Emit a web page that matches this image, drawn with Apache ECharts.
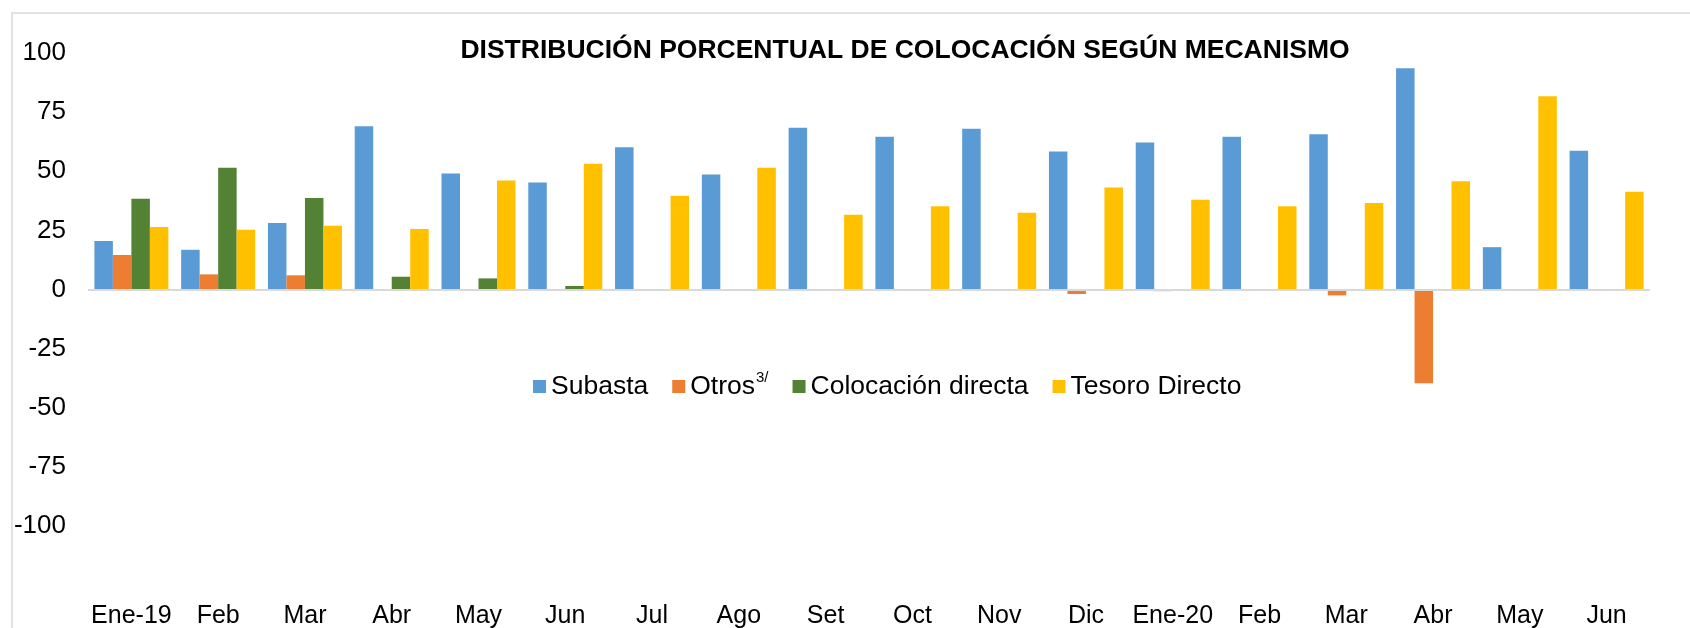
<!DOCTYPE html>
<html>
<head>
<meta charset="utf-8">
<script src="https://cdn.jsdelivr.net/npm/echarts@6/dist/echarts.min.js"></script>
<style>
  html, body { margin: 0; padding: 0; background: #fff; }
  #chart { width: 1690px; height: 628px; }
</style>
</head>
<body>
<div id="chart"></div>
<script>
  // Data
  const categories = ['Ene-19', 'Feb', 'Mar', 'Abr', 'May', 'Jun', 'Jul', 'Ago', 'Set', 'Oct', 'Nov', 'Dic',
    'Ene-20', 'Feb', 'Mar', 'Abr', 'May', 'Jun'];
  const subasta = [20.5, 16.8, 28.1, 69.0, 49.0, 45.2, 60.1, 48.6, 68.4, 64.6, 68.0, 58.4, 62.2, 64.6, 65.6, 93.6, 17.9, 58.7];
  const otros = [14.6, 6.4, 6.0, -0.5, 0, 0, 0, -0.5, -0.2, 0, -0.5, -1.9, -0.7, 0, -2.5, -39.6, 0, -0.3];
  const colocacionDirecta = [38.4, 51.5, 38.7, 5.4, 4.7, 1.5, 0, 0, 0, 0, 0, 0, 0, 0, 0, 0, 0, 0];
  const tesoroDirecto = [26.4, 25.3, 27.0, 25.6, 46.1, 53.2, 39.6, 51.5, 31.6, 35.2, 32.4, 43.1, 38.0, 35.2, 36.6, 45.8, 81.7, 41.3];
  const yTicks = { min: -100, max: 100, step: 25 };

  const font = 'Liberation Sans, Arial, sans-serif';

  function bar(name, data, color, extra) {
    return Object.assign({
      name: name,
      type: 'bar',
      data: data,
      barWidth: 18.5,
      barGap: '0%',
      itemStyle: { color: color }
    }, extra || {});
  }

  const chart = echarts.init(document.getElementById('chart'));
  chart.setOption({
    animation: false,
    backgroundColor: '#fff',
    textStyle: { fontFamily: font },
    graphic: [{
      type: 'rect',
      shape: { x: 12, y: 13, width: 1700, height: 700 },
      style: { fill: 'none', stroke: '#d9d9d9', lineWidth: 1.5 },
      silent: true
    }],
    title: {
      text: 'DISTRIBUCIÓN PORCENTUAL DE COLOCACIÓN SEGÚN MECANISMO',
      left: 900,
      textAlign: 'center',
      top: 32,
      textStyle: { fontFamily: font, fontSize: 26.5, fontWeight: 'bold', color: '#000' }
    },
    legend: {
      left: 528,
      top: 365,
      itemWidth: 13,
      itemHeight: 13,
      itemGap: 24,
      icon: 'rect',
      formatter: name => name === 'Otros' ? '{a|Otros}{s|3/}' : name,
      textStyle: {
        fontFamily: font, fontSize: 26.5, color: '#000',
        rich: {
          a: { fontFamily: font, fontSize: 26.5, color: '#000' },
          s: { fontFamily: font, fontSize: 15, color: '#000', verticalAlign: 'top', padding: [0, 0, 18, 1] }
        }
      }
    },
    grid: { left: 88, right: 40, top: 53, bottom: 102, outerBoundsMode: 'none' },
    xAxis: {
      type: 'category',
      data: categories,
      position: 'bottom',
      axisLine: { show: false, onZero: false },
      axisTick: { show: false },
      axisLabel: { interval: 0, margin: 78, fontFamily: font, fontSize: 25, color: '#000' }
    },
    yAxis: {
      type: 'value',
      min: yTicks.min,
      max: yTicks.max,
      interval: yTicks.step,
      splitLine: { show: false },
      axisLine: { show: false },
      axisTick: { show: false },
      axisLabel: { margin: 22, padding: [4, 0, 0, 0], fontFamily: font, fontSize: 26, color: '#000' }
    },
    series: [
      bar('Subasta', subasta, '#5B9BD5', {
        markLine: {
          silent: true,
          symbol: 'none',
          label: { show: false },
          lineStyle: { color: '#d9d9d9', width: 2, type: 'solid' },
          data: [{ yAxis: 0 }]
        }
      }),
      bar('Otros', otros, '#ED7D31'),
      bar('Colocación directa', colocacionDirecta, '#548235'),
      bar('Tesoro Directo', tesoroDirecto, '#FFC000')
    ]
  });
</script>
</body>
</html>
